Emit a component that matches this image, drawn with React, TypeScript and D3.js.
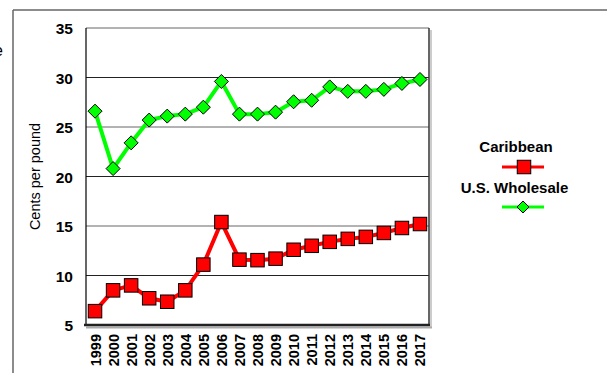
import * as d3 from "d3";
import React from "react";

const years = [
  "1999", "2000", "2001", "2002", "2003", "2004", "2005", "2006", "2007", "2008",
  "2009", "2010", "2011", "2012", "2013", "2014", "2015", "2016", "2017",
];
const caribbean = [
  6.4, 8.5, 9.0, 7.7, 7.35, 8.5, 11.1, 15.4, 11.6, 11.55,
  11.7, 12.6, 13.0, 13.4, 13.7, 13.9, 14.3, 14.8, 15.2,
];
const usWholesale = [
  26.6, 20.8, 23.4, 25.7, 26.1, 26.3, 27.0, 29.6, 26.3, 26.3,
  26.5, 27.55, 27.7, 29.05, 28.6, 28.6, 28.8, 29.4, 29.8,
];
const yTicks = [5, 10, 15, 20, 25, 30, 35];

const RED = "#ff0000";
const GREEN = "#00ff00";
const FONT = "Liberation Sans, Arial, sans-serif";

function Square({ x, y, s }: { x: number; y: number; s: number }) {
  return (
    <rect x={x - s / 2} y={y - s / 2} width={s} height={s} fill={RED} stroke="#000" strokeWidth={1} />
  );
}

function Diamond({ x, y, r }: { x: number; y: number; r: number }) {
  return (
    <path
      d={`M${x},${y - r}L${x + r},${y}L${x},${y + r}L${x - r},${y}Z`}
      fill={GREEN}
      stroke="#000"
      strokeWidth={1}
    />
  );
}

export default function App() {
  const width = 607;
  const height = 373;
  const plot = { left: 86, top: 28, right: 429, bottom: 325 };

  const x = d3.scaleBand().domain(years).range([plot.left, plot.right]);
  const y = d3.scaleLinear().domain([5, 35]).range([plot.bottom, plot.top]);
  const cx = (d: string) => (x(d) || 0) + x.bandwidth() / 2;

  const line = d3
    .line<number>()
    .x((_, i) => cx(years[i]))
    .y((d) => y(d));

  return (
    <svg
      width={width}
      height={height}
      style={{ position: "absolute", left: 0, top: 0, background: "#fff" }}
      fontFamily={FONT}
    >
      {/* outer frame */}
      <line x1={13} x2={607} y1={10} y2={10} stroke="#666" strokeWidth={1.5} />
      <line x1={13} x2={13} y1={10} y2={373} stroke="#666" strokeWidth={1.5} />
      <text x={-6} y={56} fontSize={16} fill="#000">e</text>

      {/* gridlines */}
      {yTicks.map((t) => (
        <line
          key={`g-${t}`}
          x1={plot.left}
          x2={plot.right}
          y1={y(t)}
          y2={y(t)}
          stroke={t % 10 === 0 ? "#222" : "#666"}
          strokeWidth={1}
        />
      ))}
      {/* plot border */}
      <line x1={plot.left} x2={plot.left} y1={plot.top} y2={plot.bottom} stroke="#000" strokeWidth={1.2} />
      <line x1={plot.right} x2={plot.right} y1={plot.top} y2={plot.bottom} stroke="#333" strokeWidth={1.5} />
      <line x1={plot.right + 2} x2={plot.right + 2} y1={plot.top + 2} y2={plot.bottom + 2} stroke="#bbb" strokeWidth={1.5} />
      <line x1={plot.left} x2={plot.right + 3} y1={plot.bottom + 2.5} y2={plot.bottom + 2.5} stroke="#aaa" strokeWidth={2} />
      <line x1={plot.left - 2} x2={plot.right + 1} y1={plot.bottom} y2={plot.bottom} stroke="#222" strokeWidth={2.5} />

      {/* y tick labels */}
      {yTicks.map((t) => (
        <text
          key={`yt-${t}`}
          x={73}
          y={y(t) + 6}
          textAnchor="end"
          fontSize={15.5}
          fontWeight="bold"
        >
          {t}
        </text>
      ))}
      <text
        transform={`translate(40, ${(plot.top + plot.bottom) / 2}) rotate(-90)`}
        textAnchor="middle"
        fontSize={14.5}
      >
        Cents per pound
      </text>

      {/* x tick labels */}
      {years.map((yr) => (
        <text
          key={`xt-${yr}`}
          transform={`translate(${cx(yr) + 5.5}, 334) rotate(-90)`}
          textAnchor="end"
          fontSize={14.5}
          fontWeight="bold"
        >
          {yr}
        </text>
      ))}

      {/* series */}
      <path d={line(usWholesale) || ""} fill="none" stroke={GREEN} strokeWidth={4} strokeLinejoin="round" />
      {usWholesale.map((v, i) => (
        <Diamond key={`d-${i}`} x={cx(years[i])} y={y(v)} r={7} />
      ))}
      <path d={line(caribbean) || ""} fill="none" stroke={RED} strokeWidth={4} strokeLinejoin="round" />
      {caribbean.map((v, i) => (
        <Square key={`s-${i}`} x={cx(years[i])} y={y(v)} s={13.5} />
      ))}

      {/* legend */}
      <text x={516} y={152} textAnchor="middle" fontSize={15} fontWeight="bold">
        Caribbean
      </text>
      <line x1={502} x2={544} y1={167} y2={167} stroke={RED} strokeWidth={3} />
      <Square x={524} y={167} s={13.5} />
      <text x={514.5} y={193} textAnchor="middle" fontSize={15} fontWeight="bold">
        U.S. Wholesale
      </text>
      <line x1={502} x2={544} y1={207} y2={207} stroke={GREEN} strokeWidth={3} />
      <Diamond x={523} y={207} r={6} />
    </svg>
  );
}
